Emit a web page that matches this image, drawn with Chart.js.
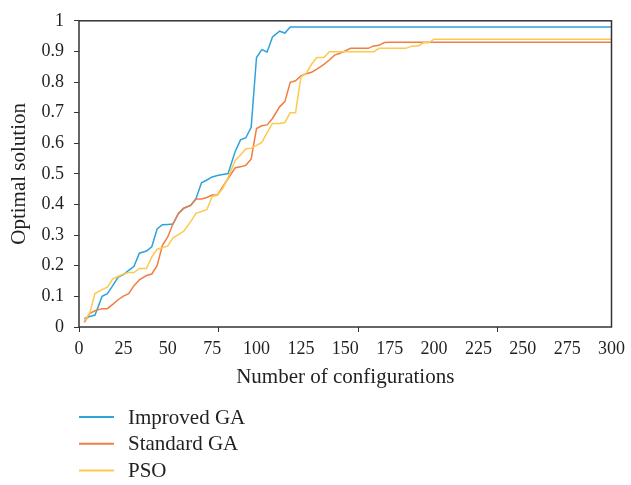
<!DOCTYPE html>
<html>
<head>
<meta charset="utf-8">
<script src="https://cdn.jsdelivr.net/npm/chart.js@4"></script>
<style>
  html, body { margin: 0; padding: 0; background: #fff; }
  #wrap { width: 631px; height: 485px; }
</style>
</head>
<body>
<div id="wrap"><canvas id="chart"></canvas></div>
<script>
// number of configurations (x) and optimal solution per algorithm
var configs = [3, 6, 9, 13, 16, 19, 22, 25, 28, 31, 34, 38, 41, 44, 47, 50, 53, 56, 59, 63,
    66, 69, 72, 75, 78, 81, 84, 88, 91, 94, 97, 100, 103, 106, 109, 113, 116, 119, 122, 125,
    128, 131, 134, 138, 141, 144, 147, 150, 153, 156, 159, 163, 166, 169, 172, 175, 178, 181, 184, 188,
    191, 194, 197, 200, 300];

var improvedGA = [0.028, 0.034, 0.039, 0.10, 0.109, 0.135, 0.162, 0.171, 0.185, 0.198,
    0.241, 0.248, 0.262, 0.32, 0.334, 0.335, 0.336, 0.371, 0.388, 0.398,
    0.421, 0.471, 0.48, 0.49, 0.495, 0.498, 0.501, 0.573, 0.611, 0.618,
    0.652, 0.88, 0.906, 0.898, 0.947, 0.966, 0.96, 0.98, 0.98, 0.98,
    0.98, 0.98, 0.98, 0.98, 0.98, 0.98, 0.98, 0.98, 0.98, 0.98,
    0.98, 0.98, 0.98, 0.98, 0.98, 0.98, 0.98, 0.98, 0.98, 0.98,
    0.98, 0.98, 0.98, 0.98, 0.98];

var standardGA = [0.015, 0.044, 0.053, 0.06, 0.06, 0.074, 0.089, 0.101, 0.109, 0.135,
    0.154, 0.168, 0.173, 0.2, 0.267, 0.294, 0.338, 0.37, 0.388, 0.397,
    0.418, 0.418, 0.423, 0.431, 0.431, 0.458, 0.485, 0.52, 0.523, 0.528,
    0.549, 0.648, 0.657, 0.66, 0.681, 0.719, 0.736, 0.799, 0.804, 0.82,
    0.827, 0.832, 0.842, 0.858, 0.872, 0.888, 0.894, 0.902, 0.91, 0.91,
    0.91, 0.91, 0.918, 0.92, 0.929, 0.93, 0.93, 0.93, 0.93, 0.93,
    0.93, 0.93, 0.93, 0.93, 0.93];

var pso = [0.02, 0.044, 0.109, 0.122, 0.13, 0.157, 0.165, 0.173, 0.178, 0.178,
    0.191, 0.191, 0.229, 0.254, 0.259, 0.265, 0.291, 0.302, 0.313, 0.345,
    0.372, 0.377, 0.383, 0.426, 0.431, 0.453, 0.488, 0.544, 0.562, 0.582,
    0.584, 0.593, 0.603, 0.635, 0.665, 0.665, 0.668, 0.70, 0.70, 0.816,
    0.829, 0.858, 0.88, 0.88, 0.899, 0.899, 0.899, 0.899, 0.899, 0.899,
    0.899, 0.899, 0.899, 0.91, 0.91, 0.91, 0.91, 0.91, 0.91, 0.918,
    0.918, 0.928, 0.928, 0.94, 0.94];

var seriesNames = ['Improved GA', 'Standard GA', 'PSO'];
var xTickLabels = [0, 25, 50, 75, 100, 125, 150, 175, 200, 225, 250, 275, 300];
var xTickMarks = [0, 78.7, 157.3, 236];

Chart.defaults.font.family = '"Liberation Serif", "Times New Roman", serif';
Chart.defaults.font.size = 18;
Chart.defaults.color = '#231f20';

function points(ys) {
    return configs.map(function (x, i) { return { x: x, y: ys[i] }; });
}

// box round the plot area
var frame = {
    id: 'frame',
    afterDraw: function (chart) {
        var a = chart.chartArea;
        var ctx = chart.ctx;
        ctx.save();
        ctx.strokeStyle = '#333';
        ctx.lineWidth = 1.5;
        ctx.strokeRect(a.left, a.top, a.right - a.left, a.bottom - a.top);
        ctx.restore();
    }
};

// legend stacked under the axis title
var stackedLegend = {
    id: 'stackedLegend',
    afterDraw: function (chart) {
        var ctx = chart.ctx;
        var left = chart.chartArea.left;
        ctx.save();
        ctx.font = '21px "Liberation Serif", serif';
        ctx.textBaseline = 'middle';
        chart.data.datasets.forEach(function (ds, i) {
            var y = 417 + i * 26.8;
            ctx.strokeStyle = ds.borderColor;
            ctx.lineWidth = 2;
            ctx.beginPath();
            ctx.moveTo(left, y);
            ctx.lineTo(left + 35, y);
            ctx.stroke();
            ctx.fillStyle = '#231f20';
            ctx.fillText(ds.label, left + 49, y + 1);
        });
        ctx.restore();
    }
};

var ctx = document.getElementById('chart');
var chart = new Chart(ctx, {
    type: 'line',
    data: {
        datasets: [{
            label: seriesNames[0],
            data: points(improvedGA),
            borderColor: '#2ea3dc',
            order: 3
        }, {
            label: seriesNames[1],
            data: points(standardGA),
            borderColor: '#f07e42',
            order: 2
        }, {
            label: seriesNames[2],
            data: points(pso),
            borderColor: '#fdc94e',
            order: 1
        }]
    },
    options: {
        responsive: true,
        maintainAspectRatio: false,
        animation: false,
        layout: {
            padding: { top: 17, right: 19, bottom: 95, left: 0 }
        },
        elements: {
            line: { borderWidth: 1.5, tension: 0 },
            point: { radius: 0 }
        },
        plugins: {
            legend: { display: false },
            tooltip: { enabled: false }
        },
        scales: {
            x: {
                type: 'linear',
                min: 0,
                max: 300,
                afterBuildTicks: function (axis) {
                    var vals = xTickLabels.concat(xTickMarks.slice(1));
                    vals.sort(function (a, b) { return a - b; });
                    axis.ticks = vals.map(function (v) { return { value: v }; });
                },
                afterFit: function (axis) { axis.height = 63; },
                border: { display: false },
                grid: {
                    drawOnChartArea: false,
                    tickLength: 5,
                    tickColor: function (c) {
                        return xTickMarks.indexOf(c.tick.value) >= 0 ? '#333' : 'rgba(0,0,0,0)';
                    }
                },
                ticks: {
                    autoSkip: false,
                    maxRotation: 0,
                    padding: 6,
                    callback: function (v) {
                        return xTickLabels.indexOf(v) >= 0 ? String(v) : '';
                    }
                },
                title: {
                    display: true,
                    text: 'Number of configurations',
                    font: { size: 21 },
                    padding: { top: 0, bottom: 0 }
                }
            },
            y: {
                min: 0,
                max: 1,
                afterFit: function (axis) { axis.width = 79; },
                border: { display: false },
                grid: {
                    drawOnChartArea: false,
                    tickLength: 5,
                    tickColor: '#333'
                },
                ticks: {
                    stepSize: 0.1,
                    padding: 10,
                    callback: function (v) {
                        return String(Math.round(v * 10) / 10);
                    }
                },
                title: {
                    display: true,
                    text: 'Optimal solution',
                    font: { size: 21 },
                    padding: { top: 7, bottom: 0 }
                }
            }
        }
    },
    plugins: [frame, stackedLegend]
});
</script>
</body>
</html>
